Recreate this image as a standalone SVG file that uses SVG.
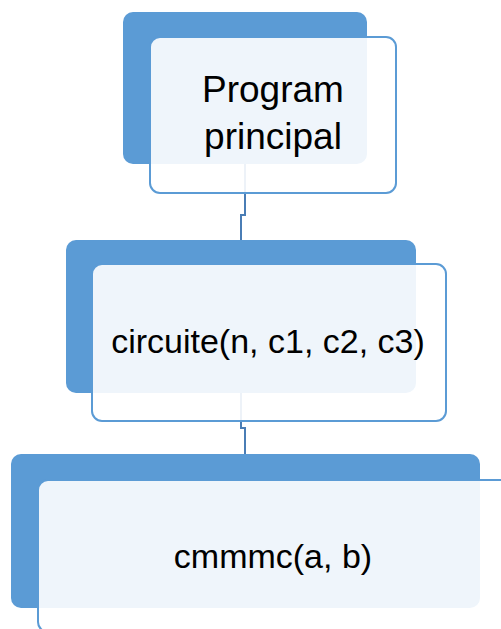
<svg xmlns="http://www.w3.org/2000/svg" width="501" height="629" viewBox="0 0 501 629">
<style>
.back{fill:#5B9BD5;}
.front{fill:#FFFFFF;fill-opacity:0.9;stroke:#5B9BD5;stroke-width:2;}
.conn{fill:none;stroke:#4A7DB5;stroke-width:2;}
.lbl{font-family:"Liberation Sans",Arial,sans-serif;fill:#000000;text-anchor:middle;}
</style>
<rect width="501" height="629" fill="#FFFFFF"/>
<g id="connectors">
<path class="conn" d="M245,164 V215 H241 V240"/>
<path class="conn" d="M241,393 V428 H245 V456"/>
</g>
<g id="node-program-principal">
<rect class="back" x="123" y="12" width="244" height="152" rx="10"/>
<rect class="front" x="150" y="37" width="246" height="156" rx="10"/>
<text class="lbl" x="273" y="102" font-size="37">Program</text>
<text class="lbl" x="273" y="149" font-size="37">principal</text>
</g>
<g id="node-circuite">
<rect class="back" x="66" y="240" width="350" height="153" rx="10"/>
<rect class="front" x="92" y="264" width="354" height="157" rx="10"/>
<text class="lbl" x="268" y="353" font-size="34">circuite(n, c1, c2, c3)</text>
</g>
<g id="node-cmmmc">
<rect class="back" x="11" y="454" width="469" height="154" rx="10"/>
<rect class="front" x="38" y="480" width="474" height="152" rx="10"/>
<text class="lbl" x="273" y="568" font-size="34">cmmmc(a, b)</text>
</g>
</svg>
